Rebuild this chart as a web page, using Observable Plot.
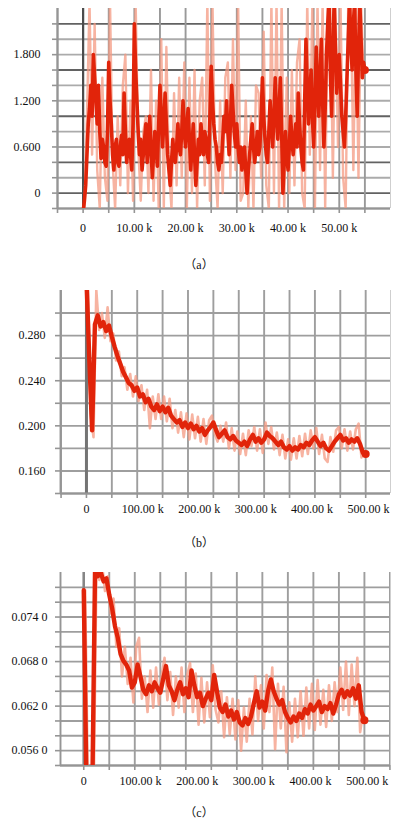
<!DOCTYPE html>
<html><head><meta charset="utf-8">
<script src="https://cdn.jsdelivr.net/npm/d3@7"></script>
<script src="https://cdn.jsdelivr.net/npm/@observablehq/plot@0.6"></script>
<style>
body{margin:0;background:#fff;}
#wrap{position:relative;width:398px;height:822px;overflow:hidden;background:#fff;}
.cap{position:absolute;left:0;width:398px;text-align:center;font-family:"Liberation Serif","DejaVu Serif","Noto Sans CJK SC",serif;font-size:12px;color:#111;line-height:14px;}
</style></head><body><div id="wrap"></div><script>
// ---------- Panel (a) ----------
const stepA = 250;
const darkA = [
-0.25,-0.1,0.1,0.5,0.9,1.1,1.4,1.0,1.8,1.5,1.2,0.9,1.4,0.8,0.45,0.7,0.6,0.4,0.35,0.8,
1.7,1.2,0.9,0.5,0.3,0.6,0.7,0.4,0.35,0.6,0.75,0.5,1.3,0.8,0.4,0.6,0.7,0.5,0.3,0.9,
2.2,1.6,1.2,0.8,0.5,0.7,0.3,0.5,0.7,0.9,0.4,0.6,1.0,0.6,0.2,0.5,0.8,0.6,0.35,0.9,
1.4,1.0,0.6,0.9,1.3,0.9,0.5,0.3,0.1,0.4,0.7,0.5,0.4,0.6,0.9,0.6,0.5,0.8,1.2,0.8,
0.6,0.9,1.1,0.7,0.3,0.6,0.9,0.5,0.1,0.4,0.7,0.5,0.9,0.7,0.5,0.8,0.7,0.5,0.4,1.0,
1.65,1.2,0.9,0.7,0.6,0.4,0.3,0.5,0.4,0.7,1.0,0.8,1.2,0.8,0.5,0.9,1.4,1.1,0.8,0.6,
0.9,0.6,0.4,0.6,0.3,0.5,0.6,0.3,0.0,0.3,0.5,0.7,0.9,0.6,0.4,0.6,0.8,0.5,0.6,1.0,
1.5,1.0,0.7,0.5,0.4,0.8,1.2,0.9,0.6,1.0,1.5,1.0,0.7,1.1,1.5,0.8,0.0,0.4,0.8,0.5,
0.3,0.6,1.0,0.7,0.5,0.7,0.9,0.6,1.3,0.9,0.6,0.4,0.3,1.2,2.0,1.4,0.9,1.3,1.6,1.0,
0.6,1.2,1.9,1.4,1.0,1.5,2.0,1.2,0.6,1.1,1.8,2.2,2.5,1.6,1.0,1.8,2.5,1.9,1.3,1.6,
1.8,1.4,1.0,0.8,0.6,1.0,1.5,2.0,2.5,2.0,1.6,2.2,2.5,1.6,1.0,1.8,2.5,2.0,1.5,1.7,
1.6];
const rawStepA = 500;
const rawA = [-0.2,1.0,2.5,0.5,2.2,0.3,-0.2,1.5,0.2,-0.1,2.5,0.4,-0.2,1.0,0.1,1.4,1.8,0.0,1.2,-0.1,
2.5,0.6,-0.1,0.8,1.0,0.0,1.6,-0.1,1.2,-0.2,2.0,-0.2,1.9,0.3,-0.2,1.3,0.1,1.5,0.2,1.7,
-0.2,1.5,0.0,1.6,-0.2,1.2,1.5,0.1,2.5,-0.1,2.5,0.4,-0.2,1.2,0.0,1.5,1.7,0.2,2.0,0.3,
2.5,-0.1,0.0,1.2,-0.2,1.0,-0.2,1.4,1.3,0.2,2.1,0.1,-0.2,2.5,0.0,2.5,-0.2,2.5,-0.2,1.5,
0.0,1.6,0.1,1.7,2.0,0.0,-0.2,2.5,0.5,2.5,-0.2,2.5,0.3,2.5,-0.2,2.5,2.5,0.2,2.5,0.6,
2.5,0.2,-0.2,2.5,2.5,0.3,2.5,0.2,2.5,1.5];
const gridXA = [-5000,0,5000,10000,15000,20000,25000,30000,35000,40000,45000,50000,55000];
const gridYA = [-0.2,0,0.2,0.4,0.6,0.8,1.0,1.2,1.4,1.6,1.8,2.0,2.2];
const majorYA = [0,0.4,1.0,1.6,2.2];
const labelXA = [0,10000,20000,30000,40000,50000];
const labelYA = [0,0.6,1.2,1.8];

// ---------- Panel (b) ----------
const stepB = 5000;
const darkB = [0.33,0.26,0.196,0.29,0.298,0.288,0.292,0.284,0.289,0.279,
0.27,0.262,0.255,0.248,0.243,0.238,0.236,0.231,0.234,0.226,
0.228,0.221,0.224,0.217,0.214,0.219,0.213,0.217,0.212,0.216,
0.209,0.206,0.203,0.205,0.199,0.203,0.198,0.202,0.197,0.200,
0.195,0.198,0.192,0.196,0.199,0.203,0.196,0.190,0.193,0.196,
0.190,0.188,0.191,0.187,0.185,0.183,0.186,0.182,0.188,0.192,
0.186,0.189,0.185,0.188,0.194,0.191,0.189,0.186,0.183,0.186,
0.181,0.179,0.182,0.178,0.181,0.179,0.183,0.181,0.185,0.183,
0.187,0.190,0.186,0.182,0.185,0.180,0.178,0.182,0.186,0.189,
0.192,0.187,0.189,0.185,0.188,0.186,0.189,0.184,0.176,0.175];
const rawB = [0.33,0.21,0.19,0.32,0.285,0.30,0.278,0.305,0.275,0.282,
0.258,0.266,0.244,0.252,0.232,0.246,0.226,0.244,0.222,0.236,
0.214,0.232,0.198,0.226,0.206,0.228,0.206,0.226,0.204,0.224,
0.198,0.214,0.194,0.212,0.190,0.211,0.188,0.21,0.189,0.208,
0.186,0.206,0.184,0.205,0.209,0.193,0.186,0.200,0.186,0.203,
0.180,0.198,0.178,0.195,0.175,0.193,0.174,0.196,0.182,0.199,
0.178,0.197,0.176,0.203,0.184,0.199,0.179,0.194,0.174,0.192,
0.171,0.188,0.170,0.189,0.171,0.191,0.173,0.193,0.175,0.196,
0.18,0.198,0.175,0.192,0.171,0.168,0.19,0.177,0.196,0.199,
0.18,0.197,0.178,0.195,0.179,0.197,0.202,0.172,0.178];
const gridXBC = [-45000,0,45000,90000,135000,180000,225000,270000,315000,360000,405000,450000,495000,540000];
const gridYB = [0.14,0.16,0.18,0.20,0.22,0.24,0.26,0.28,0.30];
const labelXBC = [0,100000,200000,300000,400000,500000];
const labelYB = [0.16,0.20,0.24,0.28];

// ---------- Panel (c) ----------
const stepC = 5000;
const darkC = [0.0776,0.050,0.050,0.050,0.081,0.0795,0.0800,0.0788,0.0792,0.0770,
0.0752,0.0728,0.0712,0.0690,0.0681,0.0676,0.0668,0.0645,0.0652,0.0676,
0.0660,0.0642,0.0636,0.0648,0.0640,0.0652,0.0644,0.0638,0.0656,0.0674,
0.0648,0.0640,0.0628,0.0642,0.0652,0.0636,0.0644,0.0632,0.0668,0.0648,
0.0632,0.0638,0.0620,0.0630,0.0638,0.0628,0.0662,0.0640,0.0618,0.0612,
0.0622,0.0606,0.0614,0.0602,0.0612,0.0598,0.0594,0.0604,0.0596,0.0606,
0.0624,0.0640,0.0618,0.0626,0.0614,0.0640,0.0656,0.0640,0.0630,0.0622,
0.0628,0.0612,0.0604,0.0598,0.0606,0.0600,0.0610,0.0604,0.0616,0.0610,
0.0622,0.0614,0.0620,0.0626,0.0612,0.0620,0.0616,0.0624,0.0610,0.0622,
0.0636,0.0642,0.0632,0.0640,0.0634,0.0644,0.0630,0.0648,0.0612,0.0601];
const rawC = [0.0776,0.050,0.050,0.050,0.081,0.0790,0.081,0.0775,0.0795,0.0745,
0.0765,0.0700,0.0725,0.0660,0.0700,0.0650,0.0685,0.0625,0.0700,0.0712,
0.0630,0.0660,0.0612,0.0668,0.0618,0.0672,0.0622,0.0662,0.0685,0.0628,
0.0666,0.0608,0.0660,0.0618,0.0672,0.0612,0.0662,0.0678,0.0612,0.0664,
0.0595,0.0658,0.0598,0.0652,0.0605,0.0675,0.0615,0.0598,0.0640,0.0578,
0.0632,0.0582,0.0630,0.0575,0.0628,0.0560,0.0618,0.0572,0.0630,0.0582,
0.0660,0.0600,0.0648,0.0590,0.0662,0.0612,0.0672,0.0562,0.0650,0.0590,
0.0646,0.0558,0.0625,0.0572,0.0630,0.0578,0.0640,0.0580,0.0645,0.0590,
0.0650,0.0588,0.0655,0.0595,0.0642,0.0592,0.0648,0.0600,0.0652,0.0612,
0.0672,0.0615,0.0680,0.0608,0.0676,0.0620,0.0685,0.0585,0.0612];
const gridYC = [0.054,0.056,0.058,0.060,0.062,0.064,0.066,0.068,0.070,0.072,0.074,0.076,0.078];
const labelYC = [0.056,0.062,0.068,0.074];

const RED = "#e1240a", RAW = "#f49a82";
const wrap = document.getElementById("wrap");

function toRows(vals, step, offset) { return vals.map((y, i) => ({x: i * step + offset, y})); }

function panel(o) {
  const dark = toRows(o.dark, o.step, 0);
  const raw = toRows(o.raw, o.rawStep, o.rawStep / 2);
  const last = dark[dark.length - 1];
  const inX = o.gridX.filter(v => v >= o.xDomain[0] && v <= o.xDomain[1]);
  const svg = Plot.plot({
    width: 398, height: o.height,
    marginLeft: o.ml, marginRight: 398 - 390, marginTop: o.mt, marginBottom: o.mb,
    x: {domain: o.xDomain},
    y: {domain: o.yDomain},
    style: "font-family: 'Liberation Serif', 'DejaVu Serif', serif; font-size: 12px; color: #111; background: white;",
    marks: [
      Plot.ruleY(o.gridY, {stroke: d => (o.majorY && o.majorY.includes(d)) ? "major" : "minor", strokeWidth: 1.9}),
      Plot.ruleX(inX, {stroke: o.vStroke, strokeWidth: 1.9}),
      Plot.ruleX([0], {stroke: o.zeroStroke, strokeWidth: o.zeroWidth}),
      Plot.ruleX([o.xDomain[0]], {stroke: "#959595", strokeWidth: 1.9}),
      Plot.ruleX([o.xDomain[1]], {stroke: "#cfcfcf", strokeWidth: 1}),
      Plot.ruleY([o.yDomain[0]], {stroke: "#959595", strokeWidth: 1.9}),
      Plot.axisY({ticks: o.gridY, tickSize: 5, tickFormat: () => "", stroke: "#959595", strokeWidth: 1.6, label: null}),
      Plot.axisX({ticks: inX, tickSize: 5, tickFormat: () => "", stroke: "#959595", strokeWidth: 1.6, label: null}),
      Plot.axisY({ticks: o.labelY, tickSize: 0, tickPadding: o.padY, tickFormat: o.fmtY, label: null, fontFamily: "Liberation Serif", fontSize: 12}),
      Plot.axisX({ticks: o.labelX, tickSize: 0, tickPadding: o.padX, tickFormat: o.fmtX, label: null, fontFamily: "Liberation Serif", fontSize: 12}),
      Plot.line(raw, {x: "x", y: "y", stroke: RAW, strokeWidth: o.rawWidth, strokeOpacity: 0.75, clip: true}),
      Plot.line(dark, {x: "x", y: "y", stroke: RED, strokeWidth: o.darkWidth, strokeLinejoin: "round", clip: true}),
      Plot.dot([last], {x: "x", y: "y", r: 4, fill: RED})
    ],
    color: {type: "ordinal", domain: ["major", "minor"], range: [o.majorStroke, o.minorStroke]}
  });
  svg.style.position = "absolute";
  svg.style.left = "0px";
  svg.style.top = o.top + "px";
  wrap.appendChild(svg);
  const cap = document.createElement("div");
  cap.className = "cap";
  cap.style.top = o.capTop + "px";
  cap.textContent = o.caption;
  wrap.appendChild(cap);
}

const fmtK = d => d === 0 ? "0" : (d / 1000).toFixed(2) + " k";

panel({
  top: 0, height: 240, mt: 8, mb: 32, ml: 57,
  dark: darkA, raw: rawA, step: stepA, rawStep: rawStepA,
  xDomain: [-5000, 60000], yDomain: [-0.2, 2.4],
  gridX: gridXA, gridY: gridYA, majorY: majorYA,
  labelX: labelXA, labelY: labelYA,
  fmtX: fmtK, fmtY: d => d === 0 ? "0" : d.toFixed(3),
  padX: 15, padY: 17,
  majorStroke: "#626262", minorStroke: "#ababab", vStroke: "#999999",
  zeroStroke: "#4c4c4c", zeroWidth: 2.2,
  rawWidth: 2.4, darkWidth: 3.6,
  caption: "（a）", capTop: 258
});

panel({
  top: 280, height: 240, mt: 10, mb: 27, ml: 60,
  dark: darkB, raw: rawB, step: stepB, rawStep: stepB,
  xDomain: [-46000, 539000], yDomain: [0.14, 0.32],
  gridX: gridXBC, gridY: gridYB, majorY: null,
  labelX: labelXBC, labelY: labelYB,
  fmtX: fmtK, fmtY: d => d.toFixed(3),
  padX: 11, padY: 15,
  majorStroke: "#9e9e9e", minorStroke: "#9e9e9e", vStroke: "#9e9e9e",
  zeroStroke: "#747474", zeroWidth: 3,
  rawWidth: 2.6, darkWidth: 4.4,
  caption: "（b）", capTop: 536
});

panel({
  top: 550, height: 245, mt: 22, mb: 30, ml: 60,
  dark: darkC, raw: rawC, step: stepC, rawStep: stepC,
  xDomain: [-41000, 541000], yDomain: [0.054, 0.080],
  gridX: gridXBC, gridY: gridYC, majorY: null,
  labelX: labelXBC, labelY: labelYC,
  fmtX: fmtK, fmtY: d => { const s = d.toFixed(4); return s.slice(0, 5) + " " + s.slice(5); },
  padX: 11, padY: 13,
  majorStroke: "#9e9e9e", minorStroke: "#9e9e9e", vStroke: "#9e9e9e",
  zeroStroke: "#868686", zeroWidth: 2.5,
  rawWidth: 2.6, darkWidth: 4.4,
  caption: "（c）", capTop: 806
});
</script></body></html>
